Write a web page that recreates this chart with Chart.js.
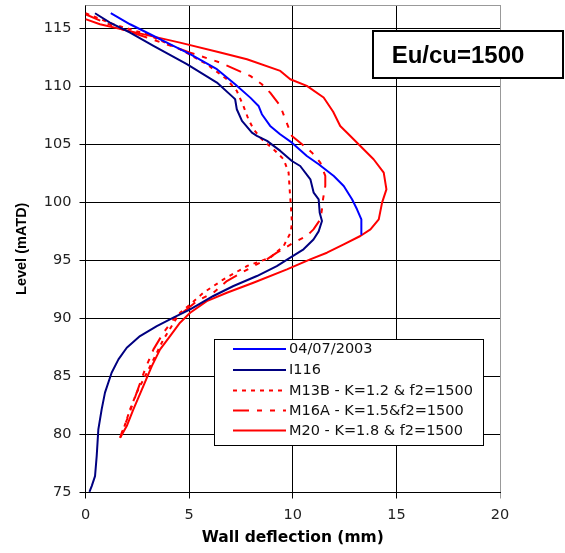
<!DOCTYPE html>
<html>
<head>
<meta charset="utf-8">
<script src="https://cdn.jsdelivr.net/npm/chart.js@4.4.1/dist/chart.umd.min.js"></script>
<style>
  html, body { margin: 0; padding: 0; background: #fff; }
  #c { display: block; }
</style>
</head>
<body>
<canvas id="c" width="565" height="553"></canvas>
<script>
// Axis ticks
const xTicks = [0, 5, 10, 15, 20];
const yTicks = [75, 80, 85, 90, 95, 100, 105, 110, 115];

// Series names
const seriesLabels = [
  '04/07/2003',
  'I116',
  'M13B - K=1.2 & f2=1500',
  'M16A - K=1.5&f2=1500',
  'M20 - K=1.8 & f2=1500'
];

// 04/07/2003 inclinometer reading: deflection (mm) vs level (mATD)
const survey0407Defl = [1.22, 2.15, 3.12, 4.24, 5.05, 6.34, 7.22, 7.95, 8.35, 8.51, 8.91, 9.39, 9.96, 10.68, 11.25, 11.98, 12.46, 12.86, 13.10, 13.31, 13.31];
const survey0407Level = [116.29, 115.34, 114.48, 113.48, 112.76, 111.47, 110.17, 109.02, 108.30, 107.59, 106.58, 105.86, 105.14, 103.99, 103.28, 102.27, 101.41, 100.26, 99.40, 98.53, 97.24];

// I116 inclinometer
const i116Defl = [0.46, 1.18, 2.15, 3.28, 4.89, 6.34, 7.14, 7.22, 7.30, 7.55, 8.03, 8.27, 8.76, 9.40, 9.96, 10.36, 10.85, 11.01, 11.25, 11.30, 11.41, 11.25, 11.00, 10.52, 9.88, 9.23, 8.27, 7.14, 6.17, 5.05, 4.24, 3.44, 2.63, 1.99, 1.59, 1.26, 0.94, 0.78, 0.62, 0.54, 0.46, 0.30, 0.19];
const i116Level = [116.29, 115.49, 114.63, 113.48, 111.90, 110.32, 109.02, 108.88, 108.02, 107.01, 106.00, 105.72, 105.29, 104.43, 103.56, 103.13, 101.98, 100.83, 100.26, 99.11, 98.39, 97.50, 96.80, 95.95, 95.23, 94.51, 93.65, 92.79, 91.93, 90.78, 90.06, 89.34, 88.48, 87.47, 86.47, 85.32, 83.60, 82.16, 80.44, 78.13, 76.41, 75.55, 75.05];

// M13B model
const m13bDefl = [0.00, 1.34, 2.96, 4.56, 5.85, 6.82, 7.30, 7.62, 7.86, 8.11, 8.51, 9.07, 9.56, 9.80, 9.85, 9.91, 9.96, 9.90, 9.56, 8.91, 7.79, 6.66, 5.69, 5.05, 4.56, 4.16, 3.76, 3.36, 2.96, 2.47, 2.15, 1.83, 1.67];
const m13bLevel = [116.30, 115.34, 114.48, 113.19, 111.90, 110.60, 109.60, 108.30, 107.16, 106.29, 105.43, 104.57, 103.71, 102.56, 101.12, 99.68, 98.25, 97.40, 96.23, 95.23, 94.51, 93.36, 92.21, 91.20, 90.49, 89.34, 88.19, 86.75, 85.32, 83.60, 82.16, 80.44, 79.71];

// M16A model
const m16aDefl = [0.00, 1.50, 2.96, 5.05, 6.50, 7.95, 8.51, 8.91, 9.40, 9.64, 9.96, 10.36, 10.93, 11.33, 11.57, 11.57, 11.46, 11.41, 11.33, 11.00, 10.68, 10.04, 9.23, 8.75, 8.11, 6.82, 6.17, 5.37, 4.89, 4.24, 3.76, 3.28, 2.87, 2.47, 2.07, 1.75, 1.67];
const m16aLevel = [116.20, 115.06, 114.20, 112.90, 112.04, 110.89, 110.17, 109.45, 108.30, 107.16, 105.72, 105.14, 104.28, 103.42, 102.27, 101.41, 100.26, 99.40, 98.53, 97.67, 97.10, 96.52, 95.66, 95.09, 94.51, 93.22, 92.21, 91.49, 90.78, 89.91, 88.76, 87.33, 85.60, 83.60, 81.59, 80.15, 79.71];

// M20 model
const m20Defl = [0.00, 0.70, 2.50, 4.56, 6.50, 7.79, 9.40, 9.88, 10.68, 11.49, 11.95, 12.29, 12.62, 13.26, 13.90, 14.39, 14.52, 14.31, 14.15, 13.75, 13.26, 12.46, 11.65, 10.84, 9.72, 8.10, 6.82, 5.85, 5.05, 4.56, 4.08, 3.60, 3.20, 2.79, 2.31, 1.99, 1.67];
const m20Level = [115.78, 115.34, 114.60, 113.76, 112.90, 112.33, 111.32, 110.60, 110.03, 109.03, 107.80, 106.58, 106.00, 104.85, 103.71, 102.56, 101.12, 99.97, 98.53, 97.67, 97.10, 96.38, 95.66, 95.09, 94.22, 93.07, 92.21, 91.49, 90.49, 89.63, 88.48, 87.33, 85.89, 84.17, 82.16, 80.72, 79.71];

function pairs(xs, ys) {
  return xs.map((x, i) => ({ x: x, y: ys[i] }));
}

const BLUE = '#0000ff';
const NAVY = '#000080';
const RED = '#ff0000';

function series(label, xs, ys, color, dash) {
  return {
    label: label,
    data: pairs(xs, ys),
    showLine: true,
    borderColor: color,
    backgroundColor: color,
    borderWidth: 2,
    borderDash: dash,
    borderJoinStyle: 'round',
    pointRadius: 0,
    pointHoverRadius: 0,
    tension: 0,
    fill: false
  };
}

const datasets = [
  series(seriesLabels[0], survey0407Defl, survey0407Level, BLUE, []),
  series(seriesLabels[1], i116Defl, i116Level, NAVY, []),
  series(seriesLabels[2], m13bDefl, m13bLevel, RED, [4, 5]),
  series(seriesLabels[3], m16aDefl, m16aLevel, RED, [16, 8, 5, 8, 5, 8]),
  series(seriesLabels[4], m20Defl, m20Level, RED, [])
];

const tickFont = { family: '"DejaVu Sans", sans-serif', size: 14.5 };

// Top frame of the plot area in grey
const frame = {
  id: 'frame',
  beforeDatasetsDraw(chart) {
    const { ctx, chartArea: a } = chart;
    ctx.save();
    ctx.strokeStyle = '#999';
    ctx.lineWidth = 1;
    ctx.beginPath();
    ctx.moveTo(a.left, Math.round(a.top) + 0.5);
    ctx.lineTo(a.right, Math.round(a.top) + 0.5);
    ctx.stroke();
    ctx.restore();
  }
};

// Boxed legend inside the plot and the Eu/cu label
const notes = {
  id: 'notes',
  afterDatasetsDraw(chart) {
    const ctx = chart.ctx;
    ctx.save();
    // legend box
    const bx = 214.5, by = 339.5, bw = 269, bh = 106;
    ctx.fillStyle = '#fff';
    ctx.fillRect(bx, by, bw, bh);
    ctx.strokeStyle = '#000';
    ctx.lineWidth = 1;
    ctx.strokeRect(bx, by, bw, bh);
    const rows = [349, 370, 390.5, 410.5, 430.5];
    ctx.font = '14.5px "DejaVu Sans", sans-serif';
    ctx.textBaseline = 'middle';
    ctx.textAlign = 'left';
    chart.data.datasets.forEach((ds, i) => {
      const y = rows[i];
      ctx.strokeStyle = ds.borderColor;
      ctx.lineWidth = 2;
      ctx.setLineDash(ds.borderDash || []);
      ctx.beginPath();
      ctx.moveTo(233, y);
      ctx.lineTo(286, y);
      ctx.stroke();
      ctx.setLineDash([]);
      ctx.fillStyle = '#111';
      ctx.fillText(ds.label, 289, y + 0.5);
    });
    // Eu/cu box
    ctx.fillStyle = '#fff';
    ctx.fillRect(373, 31, 190, 47);
    ctx.strokeStyle = '#000';
    ctx.lineWidth = 2;
    ctx.strokeRect(373, 31, 190, 47);
    ctx.fillStyle = '#000';
    ctx.font = 'bold 24px "Liberation Sans", Arial, sans-serif';
    ctx.textAlign = 'center';
    ctx.fillText('Eu/cu=1500', 458, 56);
    ctx.restore();
  }
};

new Chart(document.getElementById('c'), {
  type: 'scatter',
  data: { datasets: datasets },
  options: {
    responsive: false,
    devicePixelRatio: 1,
    animation: false,
    events: [],
    layout: { padding: { left: 8, right: 65, top: 5, bottom: 6 } },
    plugins: {
      legend: { display: false },
      tooltip: { enabled: false }
    },
    scales: {
      x: {
        type: 'linear',
        min: 0,
        max: 20,
        afterBuildTicks(scale) { scale.ticks = xTicks.map(v => ({ value: v })); },
        afterFit(scale) {
          scale.height = 54.5;
          scale.paddingLeft = 0;
          scale.paddingRight = 0;
        },
        ticks: { font: tickFont, color: '#222', padding: 8, maxRotation: 0 },
        grid: {
          color: c => (c.tick && c.tick.value === 20 ? '#999' : '#000'),
          lineWidth: 1,
          tickLength: 6,
          drawTicks: true
        },
        border: { color: '#000', width: 1 },
        title: {
          display: true,
          text: 'Wall deflection (mm)',
          color: '#000',
          font: { family: '"DejaVu Sans", sans-serif', size: 15.5, weight: 'bold' },
          padding: { top: 0, bottom: 0 }
        }
      },
      y: {
        type: 'linear',
        min: 75,
        max: 117,
        afterBuildTicks(scale) { scale.ticks = yTicks.map(v => ({ value: v })); },
        afterFit(scale) {
          scale.width = 77.5;
          scale.paddingTop = 0;
          scale.paddingBottom = 0;
        },
        ticks: { font: tickFont, color: '#222', padding: 8 },
        grid: { color: '#000', lineWidth: 1, tickLength: 6, drawTicks: true },
        border: { color: '#000', width: 1 },
        title: {
          display: true,
          text: 'Level (mATD)',
          color: '#000',
          font: { family: '"Liberation Sans", Arial, sans-serif', size: 14.5, weight: 'bold' },
          padding: { top: 5, bottom: 0 }
        }
      }
    }
  },
  plugins: [frame, notes]
});
</script>
</body>
</html>
